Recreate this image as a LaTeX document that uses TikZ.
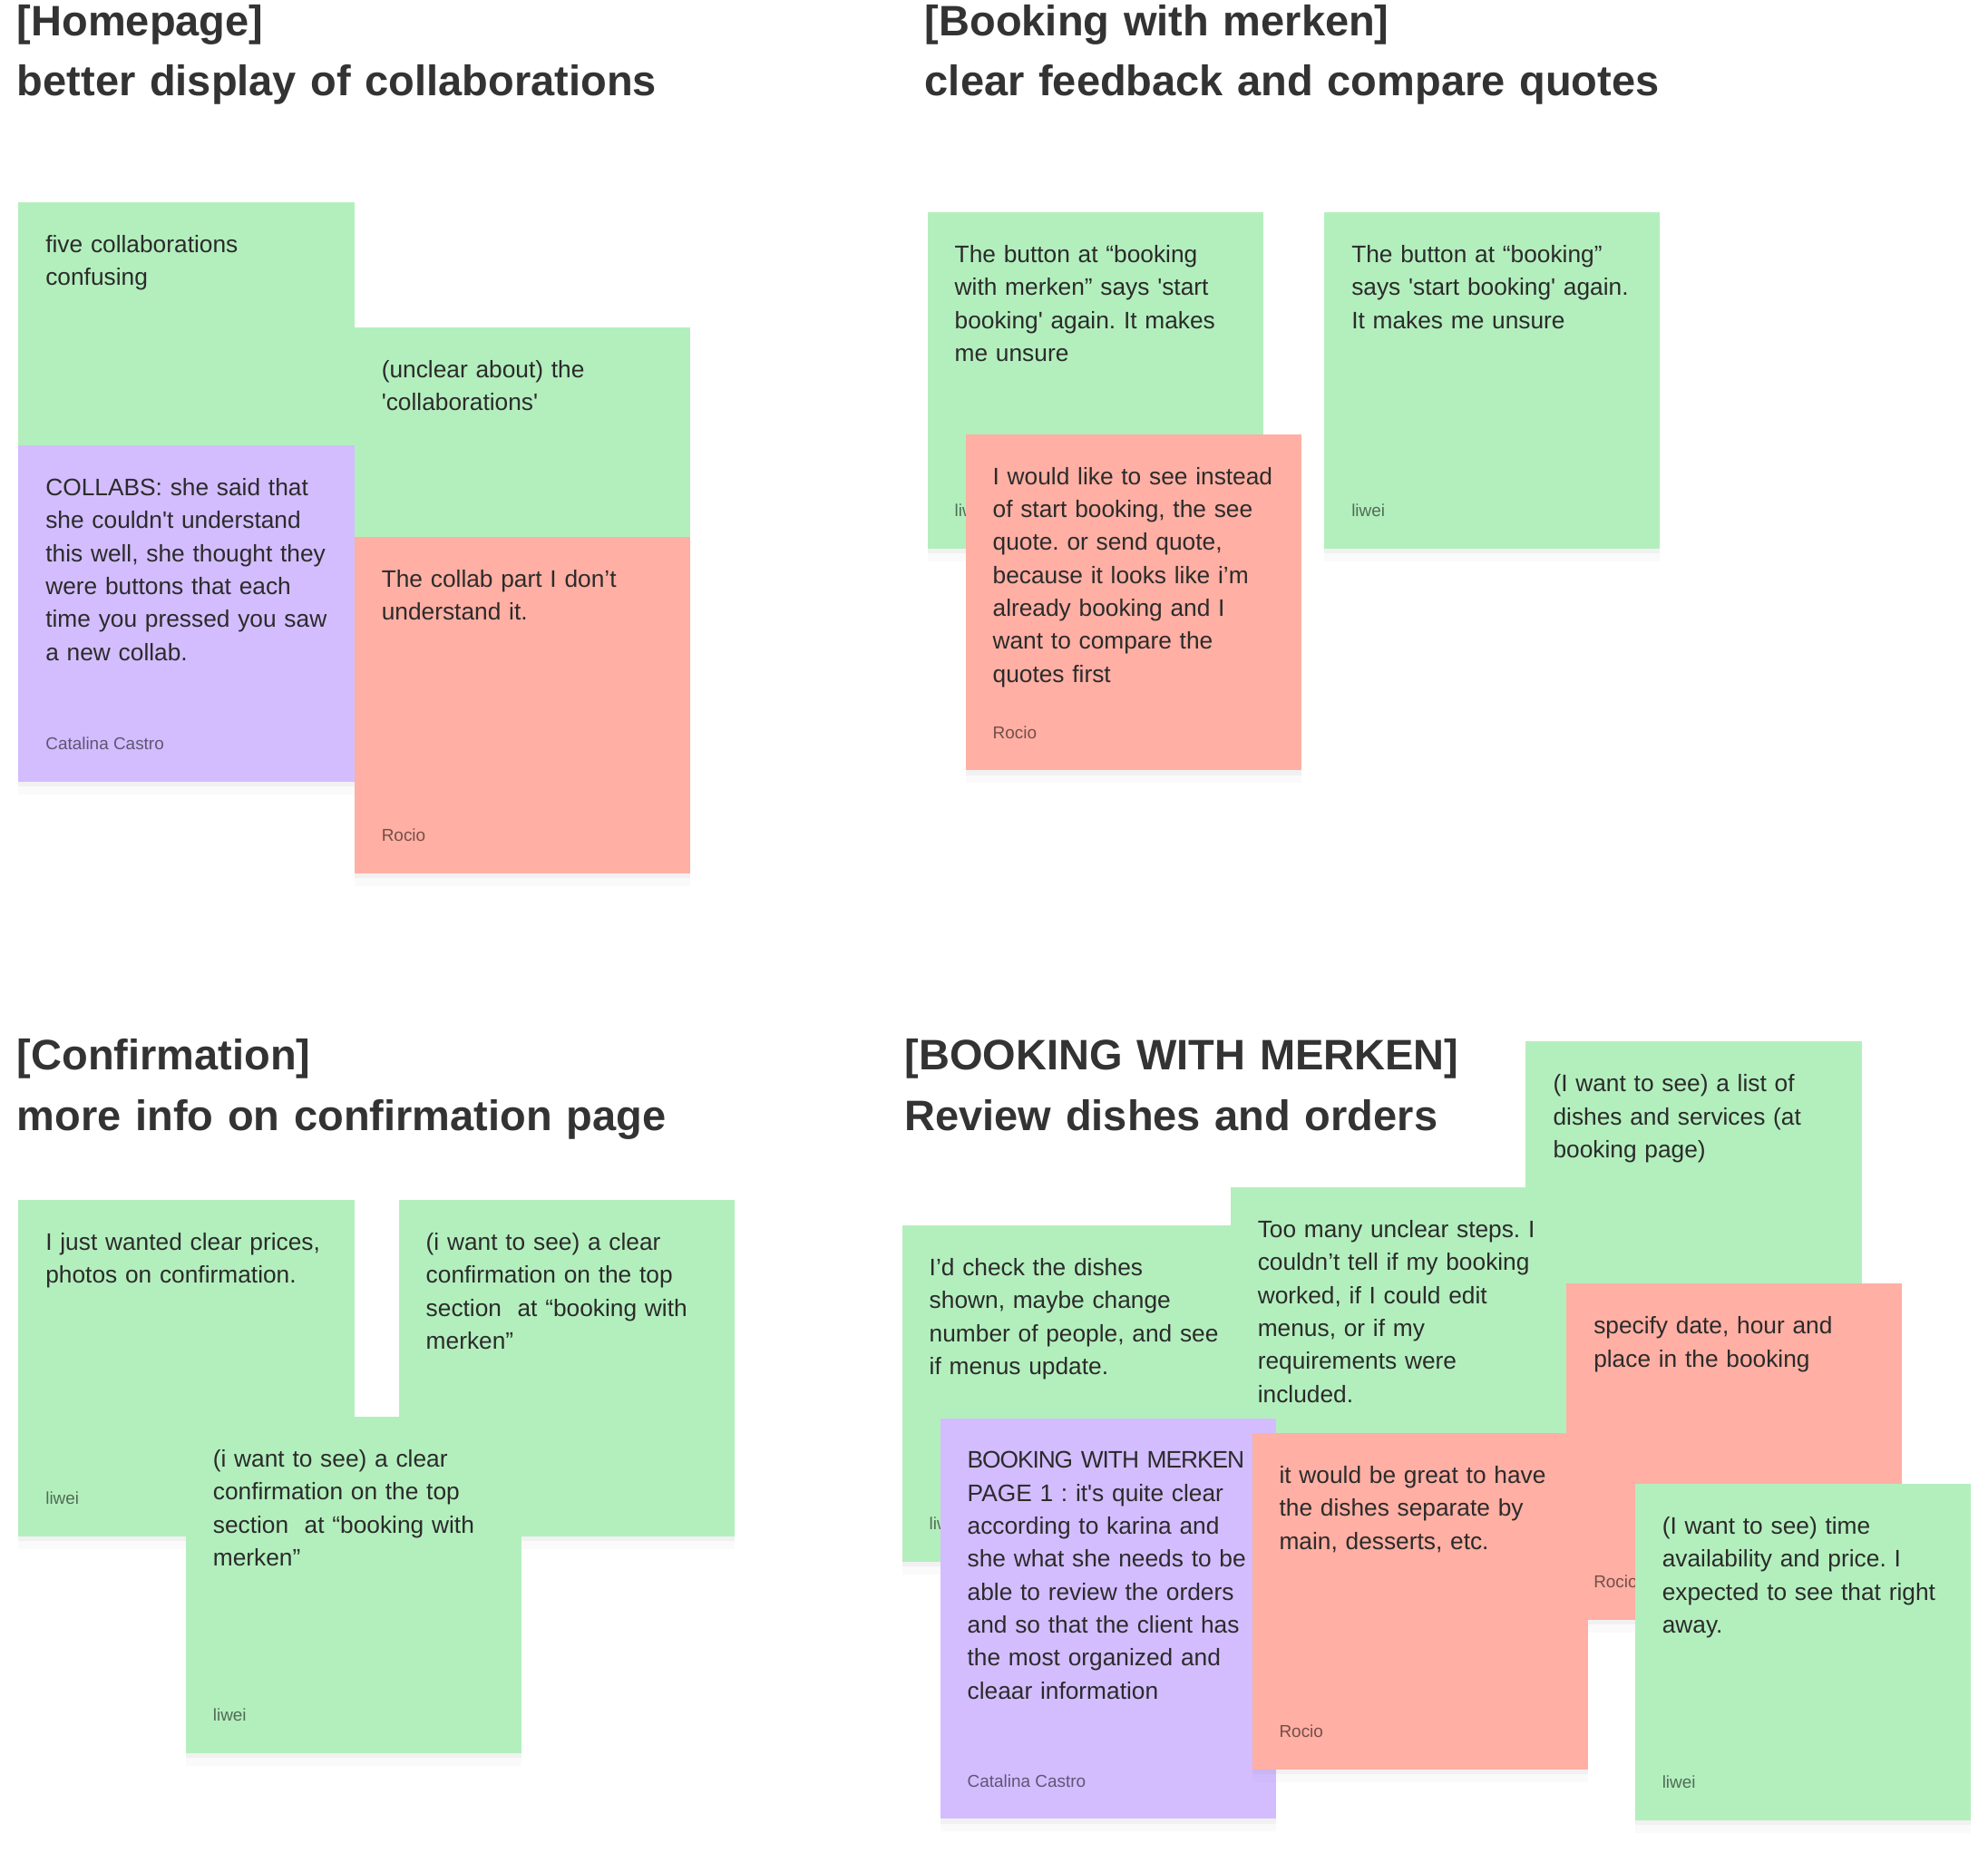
\documentclass[tikz,border=0pt]{standalone}
\usepackage{fontspec}
\setmainfont{Liberation Sans}[Ligatures=TeXOff]
\usetikzlibrary{calc,shadows}
\definecolor{stickygreen}{HTML}{B3EFBD}
\definecolor{stickyred}{HTML}{FFAFA3}
\definecolor{stickyviolet}{HTML}{D3BDFF}
\definecolor{inkcolor}{HTML}{2B2B2B}
\definecolor{headcolor}{HTML}{333333}
\frenchspacing

\begin{document}
\begin{tikzpicture}[x=0.014cm,y=-0.014cm,
  sticky/.style={rectangle,inner sep=0pt,anchor=north west,minimum width=3.71cm,
    drop shadow={shadow xshift=0pt,shadow yshift=-1.5pt,opacity=.07},
    drop shadow={shadow xshift=0pt,shadow yshift=-4pt,opacity=.04}},
  notetext/.style={anchor=base west,inner sep=0pt,text width=3.6cm,align=left,
    text=inkcolor,font=\fontsize{7.5}{10.36}\selectfont},
  signature/.style={anchor=base west,inner sep=0pt,text=black,text opacity=.55,
    font=\fontsize{5.4}{6.5}\selectfont},
  headline/.style={anchor=base west,inner sep=0pt,text width=12cm,align=left,
    text=headcolor,font=\fontsize{13.4}{18.9}\selectfont\bfseries}]
  \fill[white] (0,0) rectangle (1568,1461);
  \useasboundingbox (0,0) rectangle (1568,1461);

  % section headings
  \node[headline] (homeHead) at (13,28) {[Homepage]\\better display of collaborations};
  \node[headline] (bookHead) at (729,28) {[Booking with merken]\\clear feedback and compare quotes};
  \node[headline] (confHead) at (13,844) {[Confirmation]\\more info on confirmation page};
  \node[headline] (reviewHead) at (713,844) {[BOOKING WITH MERKEN]\\Review dishes and orders};

  % sticky notes, drawn back to front
  \foreach \nm/\x/\y/\h/\col/\txt/\who in {
    homeA/14/159/265/stickygreen/{five collaborations\\confusing}/{},
    homeB/279/258/265/stickygreen/{(unclear about) the\\'collaborations'}/{},
    homeC/14/351/265/stickyviolet/{COLLABS: she said that\\she couldn't understand\\this well, she thought they\\were buttons that each\\time you pressed you saw\\a new collab.}/{Catalina Castro},
    homeD/279/423/265/stickyred/{The collab part I don’t\\understand it.}/{Rocio},
    bookE/731/167/265/stickygreen/{The button at “booking\\with merken” says 'start\\booking' again. It makes\\me unsure}/{liwei},
    bookF/761/342/265/stickyred/{I would like to see instead\\of start booking, the see\\quote. or send quote,\\because it looks like i’m\\already booking and I\\want to compare the\\quotes first}/{Rocio},
    bookG/1044/167/265/stickygreen/{The button at “booking”\\says 'start booking' again.\\It makes me unsure}/{liwei},
    confH/14/946/265/stickygreen/{I just wanted clear prices,\\photos on confirmation.}/{liwei},
    confI/314/946/265/stickygreen/{(i want to see) a clear\\confirmation on the top\\section\ \ at “booking with\\merken”}/{},
    confJ/146/1117/265/stickygreen/{(i want to see) a clear\\confirmation on the top\\section\ \ at “booking with\\merken”}/{liwei},
    revK/1203/821/265/stickygreen/{(I want to see) a list of\\dishes and services (at\\booking page)}/{},
    revL/711/966/265/stickygreen/{I’d check the dishes\\shown, maybe change\\number of people, and see\\if menus update.}/{liwei},
    revM/970/936/265/stickygreen/{Too many unclear steps. I\\couldn’t tell if my booking\\worked, if I could edit\\menus, or if my\\requirements were\\included.}/{},
    revN/1235/1012/265/stickyred/{specify date, hour and\\place in the booking}/{Rocio},
    revO/741/1118/316/stickyviolet/{{\addfontfeature{LetterSpace=-4}BOOKING WITH MERKEN}\\PAGE 1 : it's quite clear\\according to karina and\\she what she needs to be\\able to review the orders\\and so that the client has\\the most organized and\\cleaar information}/{Catalina Castro},
    revP/987/1130/265/stickyred/{it would be great to have\\the dishes separate by\\main, desserts, etc.}/{Rocio},
    revQ/1289/1170/265/stickygreen/{(I want to see) time\\availability and price. I\\expected to see that right\\away.}/{liwei}}{
    \node[sticky,fill=\col,minimum height=\h*0.014cm] (\nm) at (\x,\y) {};
    \node[notetext] (\nm-txt) at ($(\nm.north west)+(21.5,40)$) {\txt};
    \node[signature] (\nm-who) at ($(\nm.south west)+(21.5,-25.5)$) {\who};
  }
\end{tikzpicture}
\end{document}
